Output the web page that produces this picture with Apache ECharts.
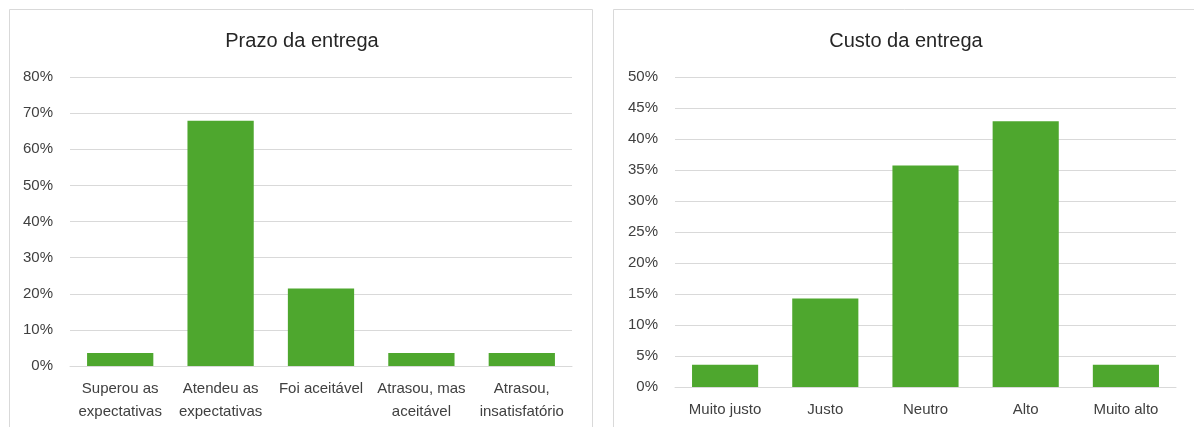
<!DOCTYPE html>
<html>
<head>
<meta charset="utf-8">
<script src="https://cdn.jsdelivr.net/npm/echarts@6/dist/echarts.min.js"></script>
<style>
html,body{margin:0;padding:0;background:#fff;}
#c{width:1194px;height:427px;}
</style>
</head>
<body>
<div id="c"></div>
<script>
const prazoTitle = 'Prazo da entrega';
const prazoCategories = ['Superou as\nexpectativas', 'Atendeu as\nexpectativas', 'Foi aceitável', 'Atrasou, mas\naceitável', 'Atrasou,\ninsatisfatório'];
const prazoValues = [0.0357, 0.6786, 0.2143, 0.0357, 0.0357];

const custoTitle = 'Custo da entrega';
const custoCategories = ['Muito justo', 'Justo', 'Neutro', 'Alto', 'Muito alto'];
const custoValues = [0.0357, 0.1429, 0.3571, 0.4286, 0.0357];

const FONT = '"Liberation Sans", Arial, sans-serif';
const GREEN = '#4EA72E';
const GRID = '#d9d9d9';
const TXT = '#404040';

function pct(v){ return Math.round(v*100) + '%'; }

const chart = echarts.init(document.getElementById('c'), null, {renderer:'canvas'});
const xAxisBase = {
  type:'category',
  axisLine:{show:true, lineStyle:{color:GRID, width:1}},
  axisTick:{show:false},
  axisLabel:{color:TXT, fontFamily:FONT, fontSize:15, lineHeight:23, margin:11, interval:0}
};
const yAxisBase = {
  type:'value', min:0,
  axisLine:{show:false}, axisTick:{show:false},
  splitLine:{show:true, lineStyle:{color:GRID, width:1}},
  axisLabel:{color:TXT, fontFamily:FONT, fontSize:15, margin:17, formatter:pct}
};
function titleText(str, cx){
  return {type:'text', x:cx, y:41, silent:true,
    style:{text:str, align:'center', verticalAlign:'middle', fontFamily:FONT, fontSize:20, fill:'#262626'}};
}
chart.setOption({
  animation:false,
  backgroundColor:'#fff',
  graphic:[
    {type:'rect', shape:{x:9.5, y:9.5, width:583, height:440}, style:{fill:'none', stroke:GRID, lineWidth:1}, silent:true, z:-1},
    {type:'rect', shape:{x:613.5, y:9.5, width:620, height:440}, style:{fill:'none', stroke:GRID, lineWidth:1}, silent:true, z:-1},
    titleText(prazoTitle, 302),
    titleText(custoTitle, 906)
  ],
  grid:[
    {left:70, top:77, width:502, height:289},
    {left:675, top:77, width:501, height:310}
  ],
  xAxis:[
    Object.assign({}, xAxisBase, {gridIndex:0, data:prazoCategories}),
    Object.assign({}, xAxisBase, {gridIndex:1, data:custoCategories})
  ],
  yAxis:[
    Object.assign({}, yAxisBase, {gridIndex:0, max:0.8, interval:0.1}),
    Object.assign({}, yAxisBase, {gridIndex:1, max:0.5, interval:0.05})
  ],
  series:[
    {type:'bar', xAxisIndex:0, yAxisIndex:0, data:prazoValues, barWidth:'66%', itemStyle:{color:GREEN}},
    {type:'bar', xAxisIndex:1, yAxisIndex:1, data:custoValues, barWidth:'66%', itemStyle:{color:GREEN}}
  ]
});
</script>
</body>
</html>
